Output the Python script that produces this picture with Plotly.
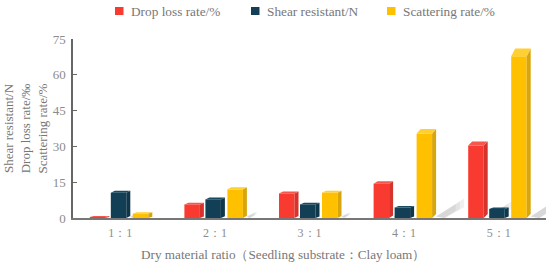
import plotly.graph_objects as go

categories = ["1：1", "2：1", "3：1", "4：1", "5：1"]
drop_loss = [0.4, 5.7, 10.3, 14.4, 30.4]
shear = [10.6, 7.8, 5.7, 4.4, 3.8]
scattering = [1.9, 12.0, 10.6, 35.4, 67.8]
y_ticks = [0, 15, 30, 45, 60, 75]

W, H = 550, 265
L, R, T, B = 73, 4, 39, 47
px_x = (W - L - R) / 5
px_y = (H - T - B) / 75
bar_w = 15.5 / px_x
offsets = [-30.5 / px_x, -9.5 / px_x, 12.5 / px_x]
DX = 4 / px_x

series = [
    ("Drop loss rate/%", drop_loss, "#f93a30", "#d5332b", "#f6564c"),
    ("Shear resistant/N", shear, "#123f55", "#0f374a", "#184a62"),
    ("Scattering rate/%", scattering, "#ffc000", "#d9a50c", "#ffcf33"),
]
legend_x = [115, 251, 387]

fig = go.Figure()
shapes = []
annotations = []
for (name, vals, col, side, top), off, lx in zip(series, offsets, legend_x):
    fig.add_trace(go.Bar(name=name, x=list(range(5)), y=vals, width=bar_w, offset=off,
                         showlegend=False, marker=dict(color=col, line_width=0)))
    # legend entry
    shapes.append(dict(type="rect", xref="paper", yref="paper", line_width=0, fillcolor=col,
                       x0=(lx - L) / (W - L - R), x1=(lx + 8.5 - L) / (W - L - R),
                       y0=(H - B - 15) / (H - T - B), y1=(H - B - 7) / (H - T - B)))
    annotations.append(dict(text=name, xref="paper", yref="paper", showarrow=False, xanchor="left",
                            yanchor="middle", x=(lx + 14 - L) / (W - L - R), y=(H - B - 11) / (H - T - B),
                            yshift=-1, font=dict(size=13.3, color="#777777")))
    for i, v in enumerate(vals):
        x0 = i + off
        x1 = x0 + bar_w
        dy = (1 + 0.1 * v) / px_y
        dyb = min(4, 1 + 0.1 * v) / px_y
        # soft floor shadow, grows with bar height
        sl = min(v * 0.8, 28) / px_x
        sh = min(v * 0.55, 20) / px_y
        if v > 8:
            for frac, alpha in ((1.0, 0.14), (0.85, 0.14), (0.7, 0.14)):
                shapes.append(dict(type="path", layer="below", line_width=0, fillcolor=f"rgba(150,150,150,{alpha})",
                                   path=f"M{x1 + DX},0.6 L{x1 + DX + sl * frac},{sh * frac} "
                                        f"L{x1 + DX + sl * frac},{sh * frac * 0.55} L{x1 + DX + sl * 0.3},0 Z"))
        shapes.append(dict(type="path", line_width=0, fillcolor=side,
                           path=f"M{x1},0 L{x1 + DX},{dyb} L{x1 + DX},{v + dy} L{x1},{v} Z"))
        shapes.append(dict(type="path", line_width=0, fillcolor=top,
                           path=f"M{x0},{v} L{x0 + DX},{v + dy} L{x1 + DX},{v + dy} L{x1},{v} Z"))

annotations.append(dict(text="Dry material ratio（Seedling substrate：Clay loam）", xref="paper", yref="paper",
                        showarrow=False, xanchor="center", yanchor="middle",
                        x=(283 - L) / (W - L - R), y=-(254 - (H - B)) / (H - T - B),
                        font=dict(size=13.2, color="#777777")))

grey = "#8c8c8c"
fig.update_layout(
    width=W, height=H, barmode="overlay", shapes=shapes, annotations=annotations, showlegend=False,
    margin=dict(l=L, r=R, t=T, b=B), plot_bgcolor="white", paper_bgcolor="white",
    font=dict(family="Liberation Serif", size=12, color=grey),
    xaxis=dict(range=[-0.5, 4.5], tickvals=list(range(5)), ticktext=categories, showgrid=False,
               showline=True, linecolor="#777777", linewidth=1.5, ticks="", zeroline=False,
               ticklabelstandoff=3, tickfont=dict(size=12, color=grey)),
    yaxis=dict(range=[0, 75], tickvals=y_ticks, showgrid=False, showline=True, linecolor="#666666",
               linewidth=1.5, ticks="inside", ticklen=4, tickcolor="#666666", zeroline=False,
               ticklabelstandoff=3,
               title=dict(text="Shear resistant/N<br>Drop loss rate/‰<br>Scattering rate/%", standoff=2,
                          font=dict(size=13, color="#777777")), tickfont=dict(size=13, color=grey)),
)
fig.write_html("out.html", config={"displayModeBar": False}, post_script="document.body.style.margin='0';")
